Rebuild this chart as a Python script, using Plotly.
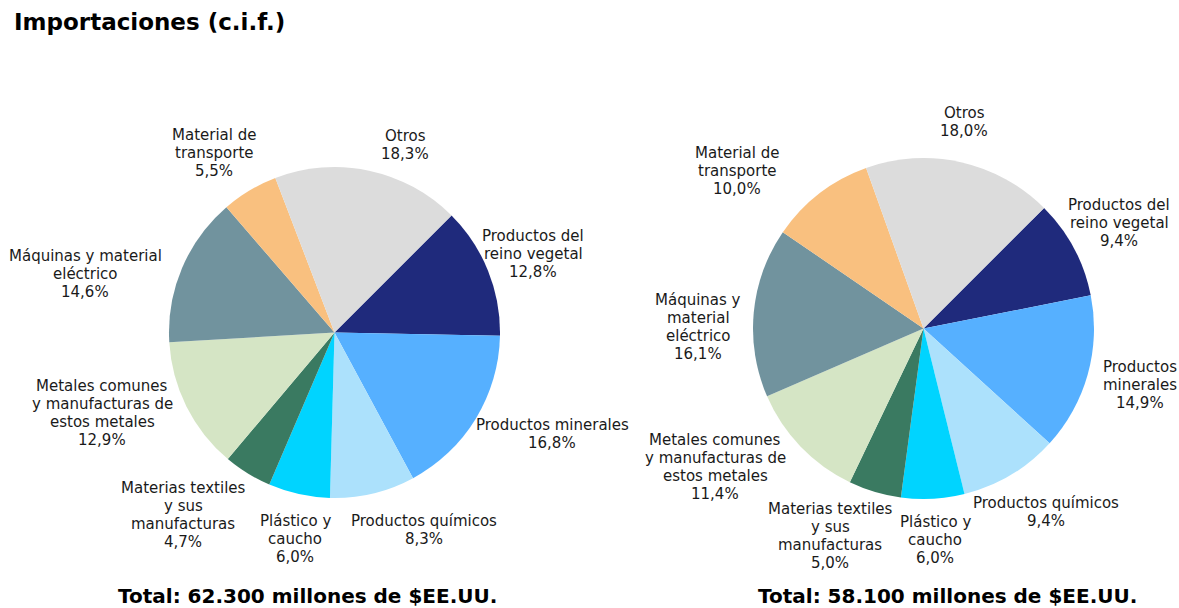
import plotly.graph_objects as go

# ------------------------------Données------------------------------

categories = ['Productos del reino vegetal', 'Productos minerales', 'Productos químicos',
              'Plástico y caucho', 'Materias textiles y sus manufacturas',
              'Metales comunes y manufacturas de estos metales',
              'Máquinas y material eléctrico', 'Material de transporte', 'Otros']

values_left = [12.8, 16.8, 8.3, 6.0, 4.7, 12.9, 14.6, 5.5, 18.3]
values_right = [9.4, 14.9, 9.4, 6.0, 5.0, 11.4, 16.1, 10.0, 18.0]

labels_left = ['Productos del<br>reino vegetal', 'Productos minerales', 'Productos químicos',
               'Plástico y<br>caucho', 'Materias textiles<br>y sus<br>manufacturas',
               'Metales comunes<br>y manufacturas de<br>estos metales',
               'Máquinas y material<br>eléctrico', 'Material de<br>transporte', 'Otros']
labels_right = ['Productos del<br>reino vegetal', 'Productos<br>minerales', 'Productos químicos',
                'Plástico y<br>caucho', 'Materias textiles<br>y sus<br>manufacturas',
                'Metales comunes<br>y manufacturas de<br>estos metales',
                'Máquinas y<br>material<br>eléctrico', 'Material de<br>transporte', 'Otros']

totals = ['Total: 62.300 millones de $EE.UU.', 'Total: 58.100 millones de $EE.UU.']

colors = ['#1F2A7C', '#56B0FF', '#ACE1FC', '#00D4FF', '#3A7A61',
          '#D5E5C5', '#71939E', '#F9C07F', '#DCDCDC']

# ------------------------------Mise en page (pixels)------------------------------

W, H = 1179, 608
font = 'DejaVu Sans'
LINE = 18  # interligne des étiquettes

# position des étiquettes (centre du bloc de texte, en pixels)
pos_left = [(533, 254), (552, 434), (424, 530), (295, 539), (183, 515),
            (102, 413), (85, 274), (214, 153), (405, 145)]
pos_right = [(1119, 223), (1140, 385), (1046, 512), (935, 540), (830, 536),
             (715, 467), (698, 327), (737, 171), (964, 122)]


def px_x(x):
    return x / W


def px_y(y):
    return 1 - y / H


def px_dom(x0, x1, y0, y1):
    return dict(x=[px_x(x0), px_x(x1)], y=[px_y(y1), px_y(y0)])


def fmt(v):
    return f'{v:.1f}'.replace('.', ',') + '%'


fig = go.Figure()

for vals, dom in [(values_left, px_dom(169, 500, 167, 498)),
                  (values_right, px_dom(753, 1094, 158, 499))]:
    fig.add_trace(go.Pie(labels=categories, values=vals, sort=False,
                         direction='clockwise', rotation=45,
                         marker=dict(colors=colors, line=dict(width=0)),
                         textinfo='none', hoverinfo='label+percent',
                         domain=dom, showlegend=False))

annotations = []
for names, vals, pos in [(labels_left, values_left, pos_left),
                         (labels_right, values_right, pos_right)]:
    for name, v, (x, y) in zip(names, vals, pos):
        lines = name.split('<br>') + [fmt(v)]
        n = len(lines)
        for i, line in enumerate(lines):
            yy = y + (i - (n - 1) / 2) * LINE
            annotations.append(dict(text=line, x=px_x(x), y=px_y(yy),
                                    xref='paper', yref='paper', showarrow=False,
                                    xanchor='center', yanchor='middle',
                                    font=dict(family=font, size=15, color='#1a1a1a')))

for t, x in zip(totals, [307, 947]):
    annotations.append(dict(text='<b>' + t + '</b>', x=px_x(x), y=px_y(596),
                            xref='paper', yref='paper', showarrow=False,
                            xanchor='center', yanchor='middle',
                            font=dict(family=font, size=20, color='#000000')))

annotations.append(dict(text='<b>Importaciones (c.i.f.)</b>', x=px_x(12), y=px_y(22),
                        xref='paper', yref='paper', showarrow=False,
                        xanchor='left', yanchor='middle',
                        font=dict(family=font, size=23, color='#000000')))

fig.update_layout(width=W, height=H, autosize=False,
                  margin=dict(l=0, r=0, t=0, b=0),
                  paper_bgcolor='white', plot_bgcolor='white',
                  annotations=annotations)

# pas de marge autour du graphique dans la page
fig.write_html('out.html', config={'displayModeBar': False},
               post_script="document.body.style.margin='0';document.body.style.overflow='hidden';")
